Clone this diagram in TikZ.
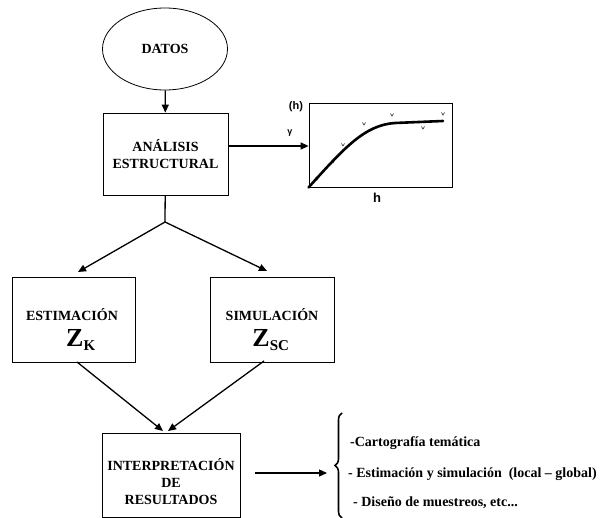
\documentclass[tikz,border=0pt]{standalone}
\usepackage{fontspec}
\setmainfont{Liberation Serif}
\newfontfamily\arialf{Liberation Sans}
\usetikzlibrary{arrows.meta,shapes.geometric,decorations.pathreplacing}
\begin{document}
\begin{tikzpicture}[x=1pt,y=-1pt,
  box/.style={draw,line width=0.8pt,rectangle,inner sep=0pt,align=center,font=\fontsize{14}{17}\selectfont\bfseries},
  arr/.style={line width=1.3pt,-{Triangle[length=8pt,width=7pt]}},
  ln/.style={line width=1.3pt},
  item/.style={anchor=west,inner sep=0pt,font=\fontsize{14}{16}\selectfont\bfseries}]
\useasboundingbox[fill=white] (0,0) rectangle (603,518);
% nodes
\node[draw,ellipse,line width=0.8pt,minimum width=125pt,minimum height=82pt,font=\fontsize{14}{17}\selectfont\bfseries] (datos) at (165,49) {DATOS};
\node[box,minimum width=125pt,minimum height=82pt] (ana) at (165.5,154) {ANÁLISIS\\ESTRUCTURAL};
\node[draw,line width=0.8pt,minimum width=143pt,minimum height=84pt,inner sep=0pt] (graf) at (380.5,145) {};
\node[box,minimum width=123pt,minimum height=85pt] (est) at (73.5,319.5) {};
\node[inner sep=0pt,font=\fontsize{14}{17}\selectfont\bfseries] (estt) at (72,315) {ESTIMACIÓN};
\node[inner sep=0pt,font=\fontsize{26}{28}\selectfont\bfseries] (estz) at (81,340) {Z\textsubscript{\fontsize{15}{17}\selectfont K}};
\node[box,minimum width=124pt,minimum height=85pt] (sim) at (272,319.5) {};
\node[inner sep=0pt,font=\fontsize{14}{17}\selectfont\bfseries] (simt) at (272,315) {SIMULACIÓN};
\node[inner sep=0pt,font=\fontsize{26}{28}\selectfont\bfseries] (simz) at (271,340) {Z\textsubscript{\fontsize{15}{17}\selectfont SC}};
\node[box,minimum width=138pt,minimum height=84pt,text depth=0pt] (int) at (171,475) {};
\node[inner sep=0pt,align=center,font=\fontsize{14}{17}\selectfont\bfseries] (intt) at (171,482) {INTERPRETACIÓN\\DE\\RESULTADOS};
% graph labels
\node[font=\arialf\bfseries\fontsize{11}{13}\selectfont,inner sep=0pt] (gh) at (296,107) {(h)};
\node[font=\arialf\bfseries\fontsize{9}{10}\selectfont,inner sep=0pt] (gg) at (290,133) {γ};
\node[font=\arialf\bfseries\fontsize{13}{15}\selectfont,inner sep=0pt] (hx) at (377,198) {h};
% curve
\draw[line width=2.6pt,line cap=round] (graf.south west) .. controls (345,147) and (365,125) .. (395,123) -- (443,121);
\foreach \px/\py in {317/179,333/162,343/145,364/124,392/115,423/128,443/114}
  \draw[line width=0.5pt] (\px-1.5,\py-1.5) -- (\px,\py+1) -- (\px+1.5,\py-1.5);
% connectors
\draw[arr] (datos) -- (ana);
\draw[arr] (ana.east |- 0,146) -- (graf.west |- 0,146);
\coordinate (j) at (165,222);
\draw[ln] (ana) -- (j);
\draw[arr] (j) -- (78,272);
\draw[arr] (j) -- (267,271);
\draw[arr] (77,362) -- (163,431);
\draw[arr] (264,361) -- (168,431);
% brace
\coordinate (b1) at (342,518);
\coordinate (b2) at (342,413);
\draw[line width=1.6pt,decorate,decoration={brace,amplitude=7pt}] (b1) -- (b2);
\coordinate (bt) at (327,473);
\draw[arr] (255,473) -- (bt);
\node[item] (i1) at (350,443) {-Cartografía temática};
\node[item] (i2) at (348,474) {- Estimación y simulación\ \ (local – global)};
\node[item] (i3) at (353,503) {- Diseño de muestreos, etc...};
\end{tikzpicture}
\end{document}
